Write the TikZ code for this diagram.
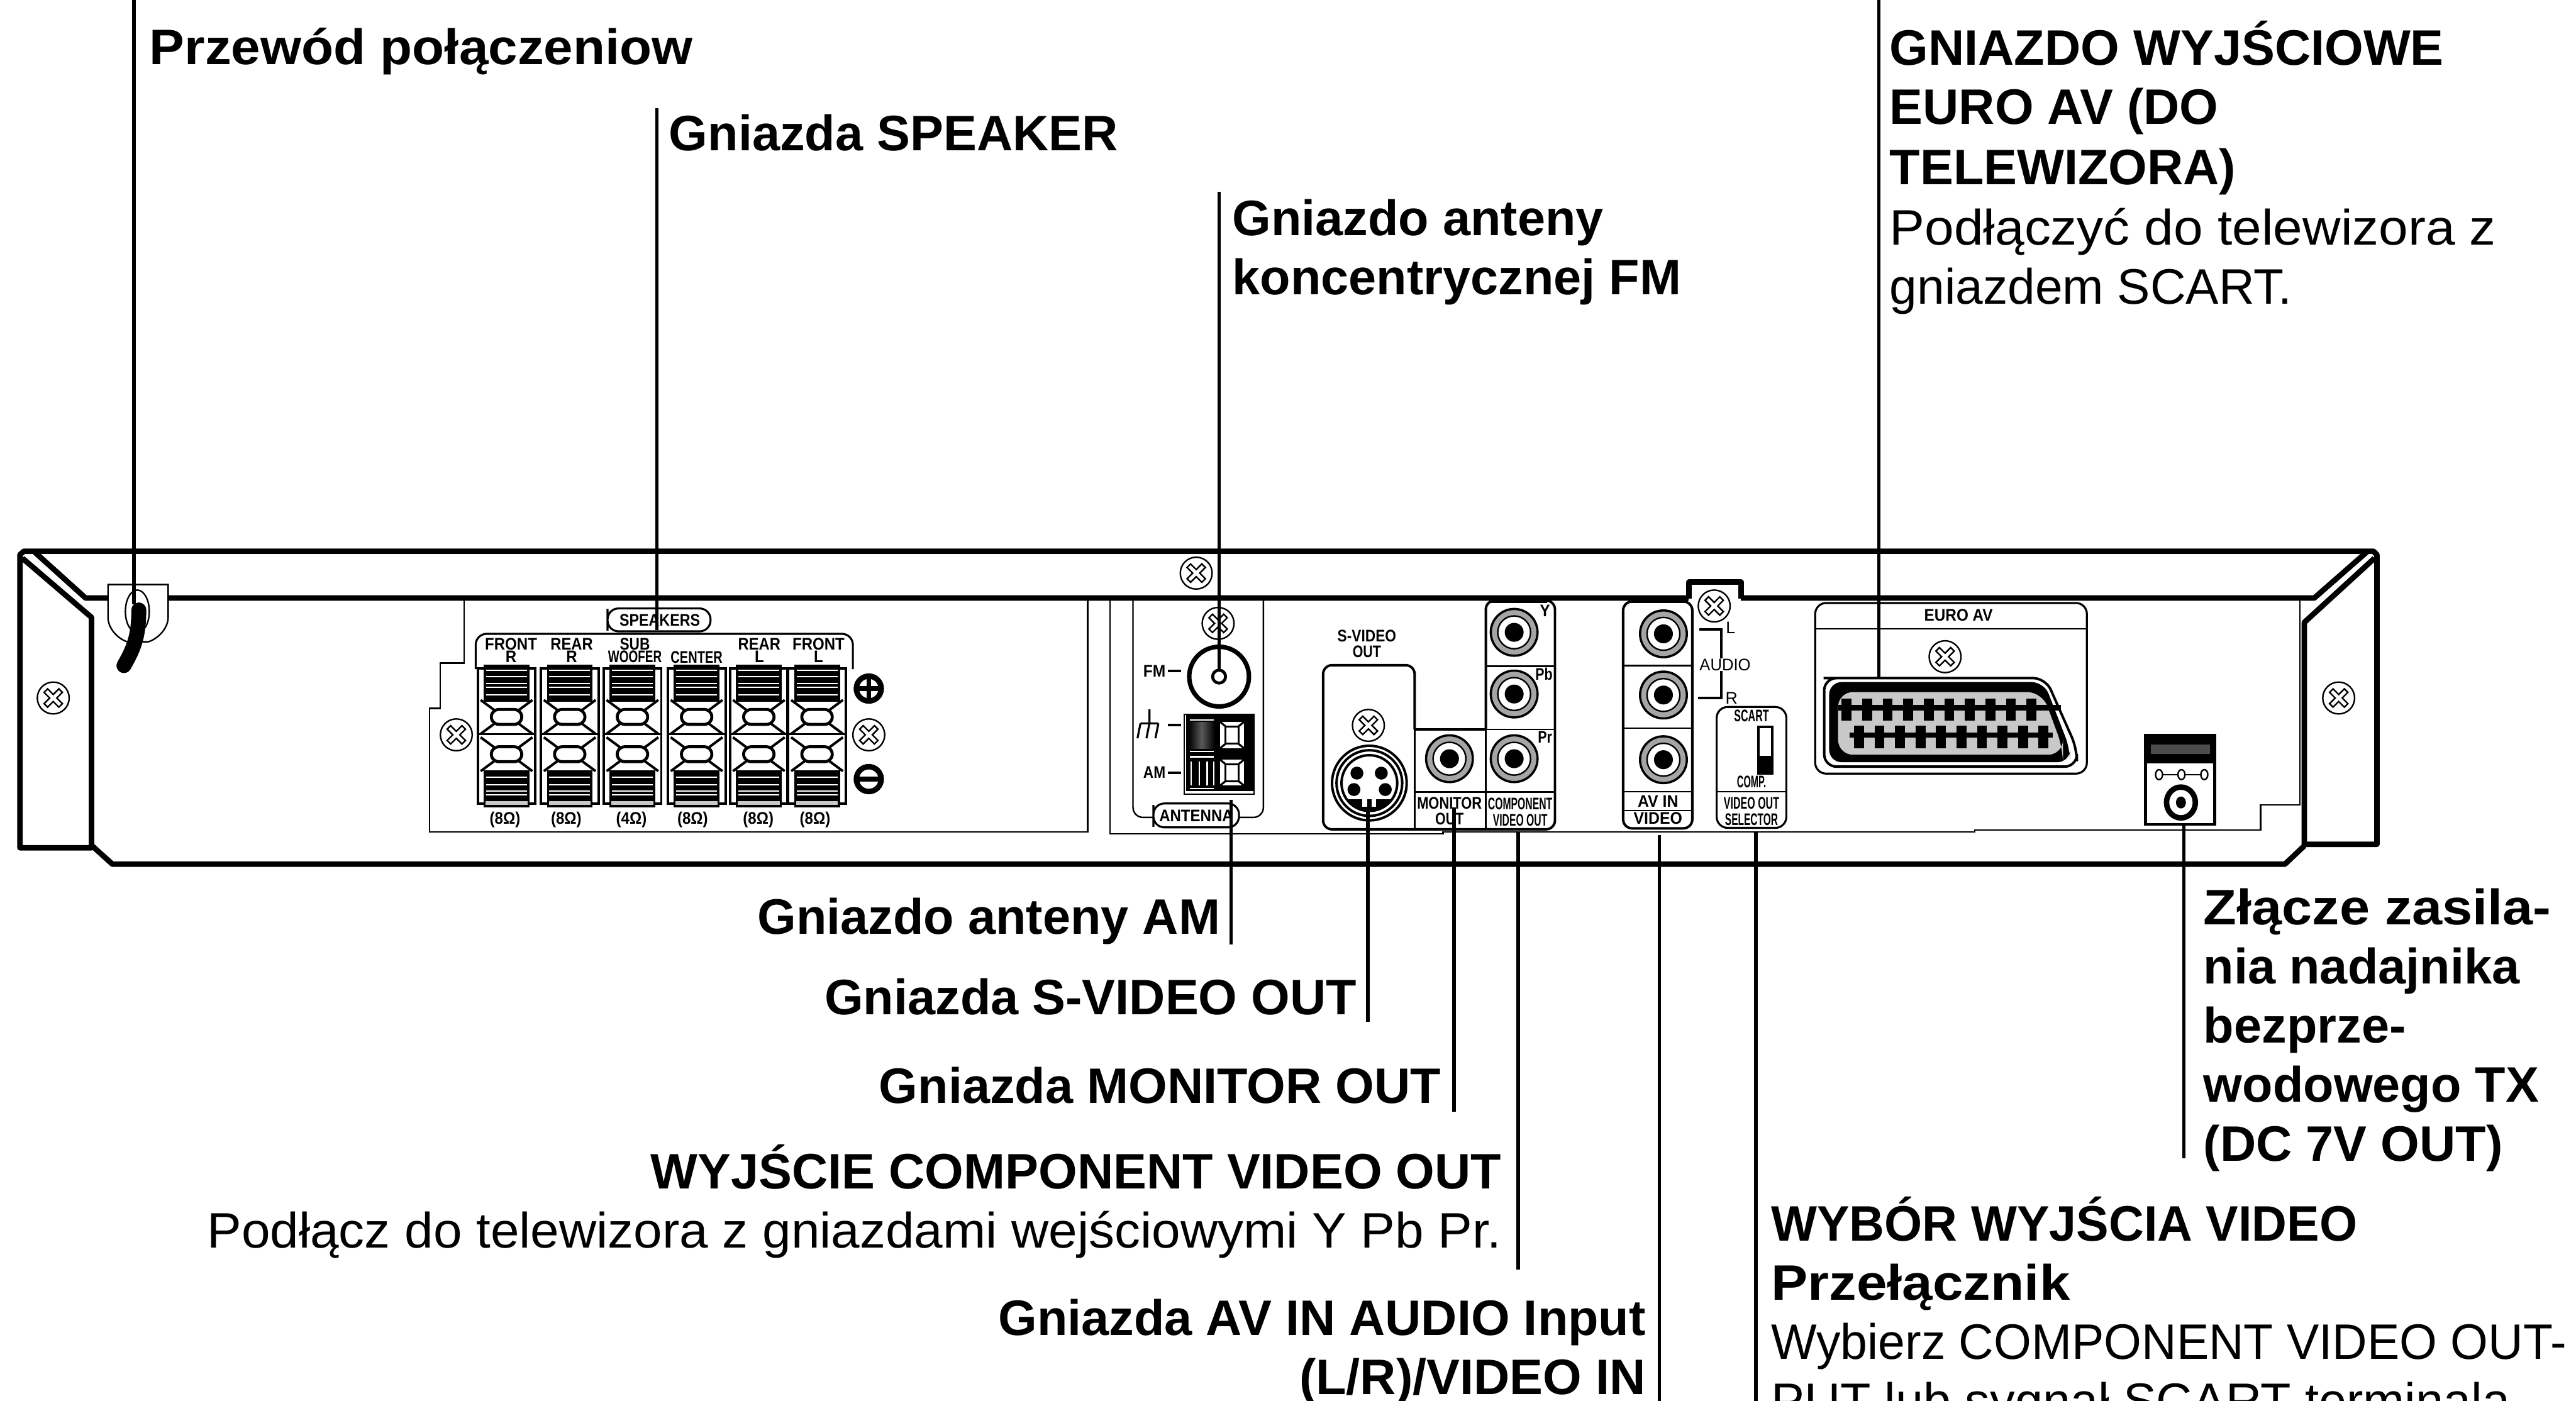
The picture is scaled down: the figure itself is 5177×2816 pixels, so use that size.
\documentclass[tikz,border=0pt]{standalone}
\usepackage{fontspec}
\usepackage{graphicx}
\setmainfont{Liberation Sans}
\newcommand{\nar}[2]{\scalebox{#1}[1]{#2}}
\tikzset{
 body/.style={line width=.11cm,line join=round},
 leader/.style={line width=.07cm},
 thinline/.style={line width=.03cm},
 boxline/.style={line width=.04cm,rounded corners=.22cm},
 callout/.style={inner sep=0pt,align=left,
  font=\fontsize{28.5}{33.8}\selectfont\bfseries},
 calloutr/.style={inner sep=0pt,align=right,
  font=\fontsize{28.5}{33.8}\selectfont\bfseries},
 tag/.style={inner sep=0pt,align=center,
  font=\fontsize{9.6}{7.2}\selectfont\bfseries},
 tagthin/.style={inner sep=0pt,font=\fontsize{9.6}{7.2}\selectfont}
}
\begin{document}
\begin{tikzpicture}[x=.01cm,y=-.01cm]
 \definecolor{ringgray}{RGB}{165,165,165}
 \definecolor{padgray}{RGB}{200,200,200}
 \useasboundingbox (0,0) rectangle (5177,2816);
 \clip (0,0) rectangle (5177,2816);
 % housing
 \draw[body] (45,1122) -- (184,1241) -- (184,1704) -- (40,1704)
  -- (40,1115) -- (48,1108) -- (4770,1108) -- (4777,1115)
  -- (4777,1697) -- (4631,1697) -- (4631,1251) -- (4772,1122);
 \draw[body] (70,1110) -- (172,1202) -- (4651,1202) -- (4756,1110);
 \draw[body] (185,1700) -- (226,1737) -- (4592,1737) -- (4631,1700);
 \draw[thinline] (933,1202) -- (933,1333) -- (885,1333) -- (885,1424)
  -- (863,1424) -- (863,1672) -- (2186,1672) -- (2186,1202);
 \draw[thinline] (2231,1202) -- (2231,1676) -- (2900,1676) -- (2900,1672)
  -- (3969,1672) -- (3969,1668) -- (4543,1668) -- (4543,1618)
  -- (4622,1618) -- (4622,1202);
 \draw[thinline] (2277,1202) -- (2277,1620) [rounded corners=.2cm]
  -- (2277,1643) -- (2318,1643);
 \draw[thinline] (2539,1202) -- (2539,1620) [rounded corners=.2cm]
  -- (2539,1643) -- (2490,1643);
 % notch behind the top screw of the AV panel
 \fill[white] (3394,1190) rectangle (3499,1212);
 \draw[body] (3394,1203) -- (3394,1170) -- (3499,1170) -- (3499,1203);
 \fill (2997,1200) rectangle (3109,1212);
 \fill (3276,1200) rectangle (3392,1212);
 % screws
 \foreach \xp/\yp in {
   107/1403, 917/1477, 1746/1477, 2404/1152, 2448/1253, 2750/1458,
   3445/1218, 3909/1320, 4700/1403
 } {
   \draw[thinline,fill=white] (\xp,\yp) circle (32);
   \draw[thinline,shift={(\xp,\yp)},rotate=45] (5,5) -- (21,5) -- (21,-5)
    -- (5,-5) -- (5,-21) -- (-5,-21) -- (-5,-5) -- (-21,-5) -- (-21,5)
    -- (-5,5) -- (-5,21) -- (5,21) -- cycle;
 }
 % cord and clamp
 \draw[thinline,fill=white] (217,1175) -- (338,1175) -- (338,1240)
  .. controls (338,1265) and (315,1285) .. (298,1290) -- (256,1290)
  .. controls (239,1285) and (217,1265) .. (217,1240) -- cycle;
 \draw[thinline] (276,1229) ellipse [x radius=24,y radius=43];
 \draw[line width=.3cm,line cap=round] (279,1226)
  .. controls (279,1280) and (268,1305) .. (249,1338);
 % speaker terminals
 \draw[boxline,fill=white] (1221,1246) -- (1221,1223) -- (1428,1223)
  -- (1428,1269) -- (1221,1269) -- cycle;
 \node[tag] (speakers) at (1326,1246) {\nar{.87}{SPEAKERS}};
 \draw[boxline] (956,1345) -- (956,1274) -- (1714,1274) -- (1714,1345);
 \foreach \xp/\lx/\oh in {
   1018/1015/8, 1145/1138/8, 1271/1269/4, 1400/1392/8, 1525/1524/8, 1642/1638/8} {
   \draw[line width=.05cm] (\xp-58,1343) rectangle (\xp+58,1615);
   \fill (\xp-46,1336) rectangle (\xp+46,1410);
   \fill (\xp-46,1548) rectangle (\xp+46,1623);
   \fill[padgray] (\xp-42,1610) rectangle (\xp+42,1618);
   \foreach \yp in {1347,1360,1374,1382,1397}
     \draw[white,line width=.025cm] (\xp-41,\yp) -- (\xp+41,\yp);
   \foreach \yp in {1562,1577,1590,1598}
     \draw[white,line width=.025cm] (\xp-41,\yp) -- (\xp+41,\yp);
   \fill (\xp-60,1474) rectangle (\xp+60,1478);
   \foreach \yp in {1441,1516} {
     \draw[line width=.06cm,rounded corners=.08cm] (\xp-33,\yp) -- (\xp-24,\yp-15)
      -- (\xp+24,\yp-15) -- (\xp+33,\yp) -- (\xp+24,\yp+15) -- (\xp-24,\yp+15) -- cycle;
     \foreach \sd in {-1,1} {
       \draw[line width=.05cm] (\xp+\sd*25,\yp-14) -- (\xp+\sd*52,\yp-34);
       \draw[line width=.05cm] (\xp+\sd*25,\yp+14) -- (\xp+\sd*52,\yp+34);
     }
   }
   \node[tag] at (\lx,1648) {\nar{.9}{(\oh Ω)}};
 }
 \node[tag] (frontr) at (1027,1307) {\nar{.9}{FRONT}\\\nar{.9}{R}};
 \node[tag] (rearr) at (1149,1307) {\nar{.89}{REAR}\\\nar{.9}{R}};
 \node[tag] (subw) at (1276,1307) {\nar{.85}{SUB}\\\nar{.71}{WOOFER}};
 \node[tag] (center) at (1400,1321) {\nar{.75}{CENTER}};
 \node[tag] (rearl) at (1526,1307) {\nar{.89}{REAR}\\\nar{.9}{L}};
 \node[tag] (frontl) at (1645,1307) {\nar{.9}{FRONT}\\\nar{.9}{L}};
 \draw[line width=.11cm] (1746,1384) circle (25);
 \draw[line width=.09cm] (1726,1384) -- (1766,1384) (1746,1364) -- (1746,1404);
 \draw[line width=.11cm] (1746,1566) circle (25);
 \draw[line width=.09cm] (1726,1566) -- (1766,1566);
 % antenna
 \draw[line width=.09cm,fill=white] (2450,1360) circle (60);
 \draw[line width=.06cm] (2450,1360) circle (13);
 \node[tag] (fm) at (2320,1349) {\nar{.92}{FM}};
 \node[tag] (am) at (2320,1553) {\nar{.85}{AM}};
 \draw[line width=.05cm] (2347,1349) -- (2374,1349) (2347,1553) -- (2374,1553)
  (2347,1457) -- (2374,1457);
 \draw[line width=.04cm] (2310,1426) -- (2310,1454) (2292,1454) -- (2328,1454)
  (2292,1454) -- (2286,1484) (2310,1454) -- (2304,1484) (2328,1454) -- (2322,1484);
 \draw[thinline] (2380,1436) rectangle (2520,1596);
 \fill (2384,1436) rectangle (2520,1590);
 \shade[left color=black,right color=black,middle color=gray!70!black]
  (2389,1452) rectangle (2441,1505);
 \foreach \yp in {1447,1510,1521,1585}
   \draw[white,line width=.03cm] (2391,\yp) -- (2439,\yp);
 \foreach \xp in {2394,2410,2426,2439}
   \draw[white,line width=.03cm] (\xp,1531) -- (\xp,1579);
 \foreach \ya/\yb in {1451/1504,1527/1579} {
   \fill[white] (2452,\ya) rectangle (2500,\yb);
   \draw[line width=.04cm] (2463,\ya+9) rectangle (2489,\yb-9);
   \draw[line width=.04cm] (2452,\ya) -- (2463,\ya+9) (2500,\ya) -- (2489,\ya+9)
    (2452,\yb) -- (2463,\yb-9) (2500,\yb) -- (2489,\yb-9);
 }
 \draw[boxline,fill=white] (2318,1640) -- (2318,1615) -- (2490,1615)
  -- (2490,1663) -- (2318,1663) -- cycle;
 \node[tag] (antenna) at (2404,1640) {\nar{.9}{ANTENNA}};
 % video outputs and AV in
 \draw[line width=.05cm,rounded corners=.18cm] (2843,1466) -- (2843,1337)
  -- (2659,1337) -- (2659,1667) -- (3125,1667) -- (3125,1207) -- (2986,1207)
  -- (2986,1466);
 \draw[line width=.05cm] (2843,1466) -- (2986,1466);
 \draw[thinline] (2843,1466) -- (2843,1667) (2986,1466) -- (2986,1667)
  (2986,1339) -- (3125,1339) (2986,1466) -- (3125,1466) (2843,1592) -- (3125,1592);
 \foreach \rd in {75,66,56}
   \draw[line width=.05cm] (2752,1574) circle (\rd);
 \foreach \xp/\yp in {2727/1554,2776/1554,2721/1587,2784/1587}
   \fill (\xp,\yp) circle (13);
 \begin{scope}
   \clip (2752,1574) circle (56);
   \fill (2690,1606) rectangle (2815,1640);
   \fill[white] (2738,1606) rectangle (2766,1622);
   \fill (2748,1606) rectangle (2756,1622);
 \end{scope}
 \draw[line width=.05cm,rounded corners=.18cm] (3262,1209) rectangle (3401,1665);
 \foreach \yp in {1338,1464,1591,1629}
   \draw[thinline] (3262,\yp) -- (3401,\yp);
 \foreach \xp/\yp in {
   3043/1271, 3043/1395, 3043/1525, 2913/1525, 3343/1274, 3343/1397, 3343/1527
 } {
   \draw[line width=.045cm,fill=ringgray] (\xp,\yp) circle (47);
   \draw[thinline,fill=white] (\xp,\yp) circle (33);
   \fill (\xp,\yp) circle (19);
 }
 \node[tag] (svideo) at (2747,1278) {\nar{.85}{S-VIDEO}};
 \node[tag] (svideob) at (2747,1310) {\nar{.8}{OUT}};
 \node[tag] (yj) at (3105,1228) {\nar{.9}{Y}};
 \node[tag] (pbj) at (3103,1355) {\nar{.8}{Pb}};
 \node[tag] (prj) at (3105,1482) {\nar{.8}{Pr}};
 \node[tag] (monitor) at (2913,1615) {\nar{.82}{MONITOR}};
 \node[tag] (monitorb) at (2913,1646) {\nar{.8}{OUT}};
 \node[tag] (compo) at (3055,1616) {\nar{.59}{COMPONENT}};
 \node[tag] (compob) at (3055,1648) {\nar{.59}{VIDEO OUT}};
 \draw[line width=.05cm] (3415,1265) -- (3459,1265) -- (3459,1323)
  (3459,1349) -- (3459,1403) -- (3413,1403);
 \node[tagthin] (audio) at (3467,1336) {\nar{.96}{AUDIO}};
 \node[tagthin] (audl) at (3478,1262) {L};
 \node[tagthin] (audr) at (3480,1403) {R};
 \node[tag] (avin) at (3332,1610) {\nar{.93}{AV IN}};
 \node[tag] (avvideo) at (3332,1645) {\nar{.93}{VIDEO}};
 % selector
 \draw[boxline] (3450,1421) rectangle (3590,1664);
 \draw[thinline] (3450,1591) -- (3590,1591);
 \draw[line width=.05cm,fill=white] (3534,1461) rectangle (3562,1555);
 \fill (3534,1519) rectangle (3562,1555);
 \node[tag] (scart) at (3520,1439) {\nar{.6}{SCART}};
 \node[tag] (comp) at (3520,1572) {\nar{.55}{COMP.}};
 \node[tag] (vout) at (3520,1615) {\nar{.6}{VIDEO OUT}};
 \node[tag] (sel) at (3520,1647) {\nar{.58}{SELECTOR}};
 % euro av
 \draw[boxline] (3648,1212) rectangle (4194,1555);
 \draw[thinline] (3648,1264) -- (4194,1264);
 \node[tag] (euro) at (3936,1237) {\nar{.91}{EURO AV}};
 \draw[line width=.05cm,rounded corners=.25cm,fill=white] (3690,1363) -- (4111,1363)
  -- (4174,1505) -- (4174,1541) -- (3666,1541) -- (3666,1363) -- cycle;
 \fill[rounded corners=.25cm] (3676,1371) -- (4108,1371) -- (4160,1505)
  -- (4160,1532) -- (3676,1532) -- cycle;
 \fill[padgray,rounded corners=.3cm] (3694,1391) -- (4104,1391) -- (4146,1505)
  -- (4146,1517) -- (3694,1517) -- cycle;
 \fill (3694,1417) rectangle (4142,1428);
 \fill (3717,1472) rectangle (4126,1483);
 \foreach \i in {0,...,9} {
   \fill ({3701+41.3*\i},1404) rectangle ({3721+41.3*\i},1449);
   \fill ({3726+41.2*\i},1458) rectangle ({3746+41.2*\i},1504);
 }
 % transmitter power jack
 \draw[line width=.06cm,fill=white] (4312,1478) rectangle (4451,1657);
 \fill (4312,1478) rectangle (4451,1534);
 \fill[gray!60!black] (4322,1496) rectangle (4441,1515);
 \draw[thinline] (4345,1557) -- (4425,1557);
 \foreach \xp in {4339,4384,4430}
   \draw[thinline,fill=white] (\xp,1557) ellipse [x radius=7,y radius=10];
 \draw[line width=.11cm] (4383,1613) ellipse [x radius=29,y radius=31];
 \fill (4383,1613) ellipse [x radius=10,y radius=12];
 % pointers
 \foreach \nm/\xp/\ya/\yb in {
   cord/269/0/1215, spk/1320/218/1267, fmj/2450/386/1347, euroj/3776/0/1363,
   amj/2474/1608/1898, svj/2749/1621/2054, monj/2922/1623/2235,
   cmpj/3051/1673/2552, avj/3335/1678/2816, selj/3529/1672/2816,
   txj/4389/1657/2328
 } {
   \coordinate (\nm a) at (\xp,\ya);
   \coordinate (\nm b) at (\xp,\yb);
   \draw[leader] (\nm a) -- (\nm b);
 }
 % captions
 \node[callout,anchor=west] (cordtxt) at (300,103) {\nar{1.054}{Przewód połączeniow}};
 \node[callout,anchor=west] (spktxt) at (1344,267) {Gniazda SPEAKER};
 \node[callout,anchor=north west] (fmtxt) at (2476,400)
  {Gniazdo anteny\\koncentrycznej FM};
 \node[callout,anchor=north west] (eurotxt) at (3797,41)
  {GNIAZDO WYJŚCIOWE\\EURO AV (DO\\[.6pt]TELEWIZORA)\\[1pt]
  \mdseries\nar{1.057}{Podłączyć do telewizora z}\\
  \mdseries\nar{.99}{gniazdem SCART.}};
 \node[calloutr,anchor=east] (amtxt) at (2453,1852) {Gniazdo anteny AM};
 \node[calloutr,anchor=east] (svtxt) at (2727,2004) {Gniazda S-VIDEO OUT};
 \node[calloutr,anchor=east] (montxt) at (2896,2182) {Gniazda MONITOR OUT};
 \node[calloutr,anchor=north east] (cmptxt) at (3018,2300)
  {WYJŚCIE COMPONENT VIDEO OUT\\
  \mdseries\nar{1.033}{Podłącz do telewizora z gniazdami wejściowymi Y Pb Pr.}};
 \node[calloutr,anchor=north east] (avtxt) at (3308,2610)
  {Gniazda AV IN AUDIO Input\\(L/R)/VIDEO IN};
 \node[callout,anchor=north west] (txtxt) at (4428,1785)
  {\nar{1.09}{Złącze zasila-}\\nia nadajnika\\bezprze-\\wodowego TX\\(DC 7V OUT)};
 \node[callout,anchor=north west] (seltxt) at (3559,2405)
  {\nar{.975}{WYBÓR WYJŚCIA VIDEO}\\\nar{1.1}{Przełącznik}\\
  \mdseries\nar{.97}{Wybierz COMPONENT VIDEO OUT-}\\
  \mdseries PUT lub sygnał SCART terminala};
\end{tikzpicture}
\end{document}
